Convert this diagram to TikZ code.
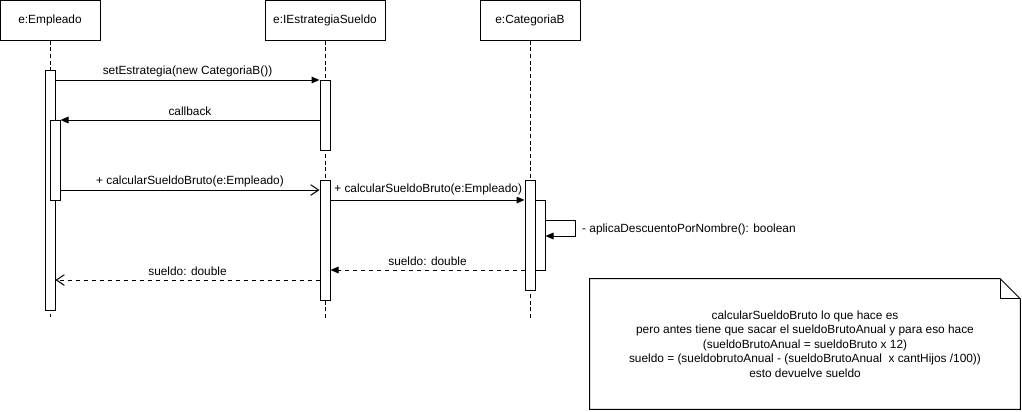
\documentclass[tikz,border=0pt]{standalone}
\usepackage{fontspec}
\setmainfont{Liberation Sans}
\usetikzlibrary{arrows.meta}
\newcommand{\px}{0.75pt}
\begin{document}
\begin{tikzpicture}[
    x=0.75pt, y=-0.75pt,
    every node/.style={font=\fontsize{8.9}{10.9}\selectfont},
    head/.style={draw, line width=0.75pt, minimum width=100*\px, minimum height=40*\px, inner sep=0pt},
    life/.style={densely dashed, line width=0.75pt},
    act/.style={draw, fill=white, line width=0.75pt, minimum width=10*\px, inner sep=0pt, anchor=north},
    msg/.style={line width=0.75pt, -{Triangle[length=6pt,width=5pt]}},
    call/.style={line width=0.75pt, -{Straight Barb[length=6pt,width=8pt]}},
    reply/.style={line width=0.75pt, dashed, -{Straight Barb[length=6pt,width=8pt]}},
    retn/.style={line width=0.75pt, dashed, -{Triangle[length=6pt,width=5pt]}}
  ]
  \useasboundingbox (0,0) rectangle (1022,411);

  % Lifeline heads
  \node[head] (emp) at (50,20) {e:Empleado};
  \node[head, minimum width=120*\px] (estr) at (325,20) {e:IEstrategiaSueldo};
  \node[head] (catb) at (530,20) {e:CategoriaB};

  % Lifelines
  \coordinate (empEnd) at (50,317);
  \coordinate (estrEnd) at (325,320);
  \coordinate (catbEnd) at (530,320);
  \draw[life] (emp.south) -- (empEnd);
  \draw[life] (estr.south) -- (estrEnd);
  \draw[life] (catb.south) -- (catbEnd);

  % Activations
  \node[act, minimum height=240*\px] (empA) at (50,70) {};
  \node[act, minimum height=80*\px] (empB) at (55,120) {};
  \node[act, minimum height=70*\px] (estrA) at (325,80) {};
  \node[act, minimum height=120*\px] (estrB) at (325,180) {};
  \node[act, minimum height=110*\px] (catbA) at (530,180) {};
  \node[act, minimum height=70*\px] (catbB) at (540,200) {};

  % Messages
  \draw[msg] (empA.east |- 0,80) -- (estrA.west |- 0,80)
    node[midway, above, inner sep=2pt] {setEstrategia(new CategoriaB())};
  \draw[msg] (estrA.west |- 0,120) -- (empB.east |- 0,120)
    node[midway, above, inner sep=3pt] {callback};
  \draw[call] (empB.east |- 0,190) -- (estrB.west |- 0,190)
    node[midway, above, inner sep=2pt] {+ calcularSueldoBruto(e:Empleado)};
  \draw[msg] (estrB.east |- 0,200) -- (catbA.west |- 0,200)
    node[pos=0, anchor=south west, fill=white, inner sep=1.5pt, xshift=1pt, yshift=2pt] {+ calcularSueldoBruto(e:Empleado)};

  % Self call
  \coordinate (selfR) at (575,220);
  \draw[msg] (catbB.east |- 0,220) -- (selfR) |- (catbB.east |- 0,236)
    node[pos=0.3, right, inner sep=5pt] {- aplicaDescuentoPorNombre(): boolean};

  % Returns
  \draw[retn] (catbA.west |- 0,270) -- (estrB.east |- 0,270)
    node[midway, above, inner sep=3pt] {sueldo: double};
  \draw[reply] (estrB.west |- 0,280) -- (empA.east |- 0,280)
    node[midway, above, inner sep=3pt] {sueldo: double};

  % Note
  \node[minimum width=430*\px, minimum height=130*\px, align=center, inner sep=0pt] (note) at (805,344)
    {calcularSueldoBruto lo que hace es\\
     pero antes tiene que sacar el sueldoBrutoAnual y para eso hace\\
     (sueldoBrutoAnual = sueldoBruto x 12)\\
     sueldo = (sueldobrutoAnual - (sueldoBrutoAnual\ \ x cantHijos /100))\\
     esto devuelve sueldo};
  \draw[line width=0.75pt] (note.south west) -- (note.north west) -- ([xshift=-20*\px]note.north east)
    -- ([yshift=-20*\px]note.north east) -- (note.south east) -- cycle;
  \draw[line width=0.75pt] ([xshift=-20*\px]note.north east) |- ([yshift=-20*\px]note.north east);

\end{tikzpicture}
\end{document}
